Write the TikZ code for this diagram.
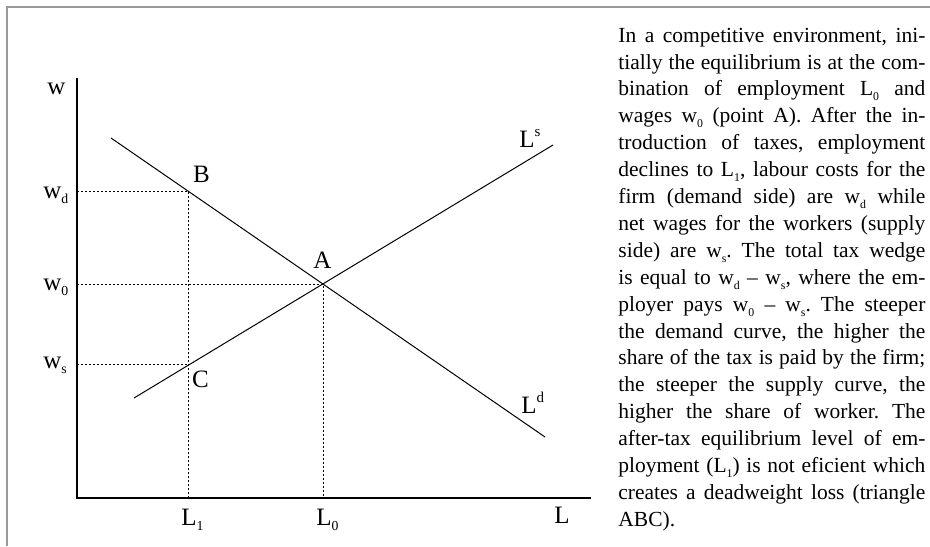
\documentclass[tikz,border=0pt]{standalone}
\usepackage{fontspec}
\setmainfont{Liberation Serif}
\newcommand\lowsub[1]{\raisebox{-0.5ex}{\scalebox{0.55}{#1}}}
\newcommand\highsup[1]{\raisebox{0.95ex}{\scalebox{0.6}{#1}}}

\begin{document}
\frenchspacing
\begin{tikzpicture}[x=0.5pt,y=-0.5pt,
  axis/.style={line width=0.75pt},
  curve/.style={line width=0.5pt},
  guide/.style={line width=0.45pt,dash pattern=on 1pt off 1pt},
  lbl/.style={font=\fontsize{12.5}{14}\selectfont,inner sep=0pt}]
\useasboundingbox (0,0) rectangle (930,546);
\draw[black!40,line width=1pt] (7,546)--(7,6.5)--(930,6.5);
% axes
\coordinate (O) at (77,498);
\coordinate (top) at (77,78);
\coordinate (right) at (591,498);
\draw[axis] (top)--(O)--(right);
% points
\coordinate (A) at (323,284);
\coordinate (B) at (188,191);
\coordinate (C) at (188,364.5);
\coordinate (d1) at (111,138);
\coordinate (d2) at (545,437);
\coordinate (s1) at (134,398);
\coordinate (s2) at (553,145);
\draw[guide] (O|-B)--(B)--(B|-O);
\draw[guide] (O|-A)--(A)--(A|-O);
\draw[guide] (O|-C)--(C);
\draw[curve] (d1)--(d2);
\draw[curve] (s1)--(s2);
% labels
\node[lbl,anchor=base west] (lw) at (47,94) {w};
\node[lbl,anchor=base west] (lwd) at (43,198) {w\lowsub{d}};
\node[lbl,anchor=base west] (lw0) at (43,290) {w\lowsub{0}};
\node[lbl,anchor=base west] (lws) at (43,368) {w\lowsub{s}};
\node[lbl,anchor=base] (lB) at (201.5,182) {B};
\node[lbl,anchor=base] (lA) at (322.5,268) {A};
\node[lbl,anchor=base] (lC) at (200.5,387) {C};
\node[lbl,anchor=base west] (lLs) at (519,147) {L\highsup{s}};
\node[lbl,anchor=base west] (lLd) at (521,413) {L\highsup{d}};
\node[lbl,anchor=base west] (lL1) at (181,525) {L\lowsub{1}};
\node[lbl,anchor=base west] (lL0) at (316,525) {L\lowsub{0}};
\node[lbl,anchor=base west] (lL) at (554,523) {L};
% text
\node[anchor=north west,inner sep=0pt,text width=153.5pt,align=justify,
  font=\fontsize{10.75}{13.45}\selectfont] (note) at (618,27.5) {\tolerance=10000
In a competitive environment, ini-\linebreak
tially the equilibrium is at the com-\linebreak
bination of employment L\lowsub{0} and\linebreak
wages w\lowsub{0} (point A). After the in-\linebreak
troduction of taxes, employment\linebreak
declines to L\lowsub{1}, labour costs for the\linebreak
firm (demand side) are w\lowsub{d} while\linebreak
net wages for the workers (supply\linebreak
side) are w\lowsub{s}. The total tax wedge\linebreak
is equal to w\lowsub{d} -- w\lowsub{s}, where the em-\linebreak
ployer pays w\lowsub{0} -- w\lowsub{s}. The steeper\linebreak
the demand curve, the higher the\linebreak
share of the tax is paid by the firm;\linebreak
the steeper the supply curve, the\linebreak
higher the share of worker. The\linebreak
after-tax equilibrium level of em-\linebreak
ployment (L\lowsub{1}) is not eficient which\linebreak
creates a deadweight loss (triangle\linebreak
ABC).};
\end{tikzpicture}
\end{document}
